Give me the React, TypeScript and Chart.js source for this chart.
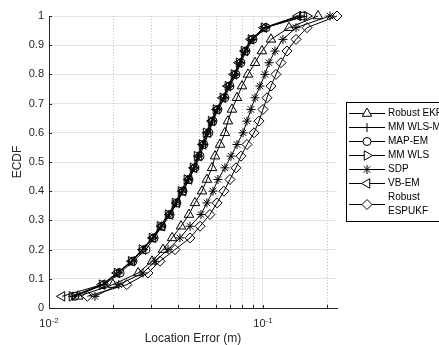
import React, { useEffect, useRef } from 'react';
import { Chart, registerables } from 'chart.js';
import { drawPoint } from 'chart.js/helpers';

Chart.register(...registerables);

// ---- data ----
const ecdfLevels = [0.04, 0.08, 0.12, 0.16, 0.2, 0.24, 0.28, 0.32, 0.36, 0.4, 0.44, 0.48, 0.52, 0.56, 0.6, 0.64, 0.68, 0.72, 0.76, 0.8, 0.84, 0.88, 0.92, 0.96, 1.0];

const robustEkfError = [0.0137, 0.0199, 0.0261, 0.0303, 0.0341, 0.0376, 0.0414, 0.0451, 0.0481, 0.0519, 0.0547, 0.0578, 0.0597, 0.063, 0.0664, 0.0686, 0.0716, 0.0756, 0.0798, 0.0851, 0.0918, 0.0989, 0.109, 0.1323, 0.1808];
const mmWlsMError = [0.0129, 0.0179, 0.021, 0.0244, 0.0275, 0.0306, 0.0334, 0.0364, 0.0392, 0.0418, 0.0446, 0.0476, 0.0497, 0.0524, 0.0547, 0.0578, 0.061, 0.0657, 0.0694, 0.074, 0.0781, 0.0824, 0.0888, 0.1022, 0.1489];
const mapEmError = [0.0132, 0.0181, 0.0215, 0.0247, 0.0284, 0.031, 0.0337, 0.0368, 0.0396, 0.0423, 0.0451, 0.0481, 0.0508, 0.053, 0.0559, 0.0584, 0.0616, 0.0664, 0.0701, 0.0748, 0.0789, 0.0833, 0.0898, 0.1033, 0.1538];
const mmWlsError = [0.0128, 0.0177, 0.0208, 0.0242, 0.0272, 0.0303, 0.033, 0.036, 0.0388, 0.0414, 0.0441, 0.0471, 0.0492, 0.0519, 0.0542, 0.0572, 0.0603, 0.065, 0.0686, 0.0732, 0.0773, 0.0815, 0.0879, 0.1011, 0.1606];
const sdpError = [0.0164, 0.0212, 0.0275, 0.0313, 0.036, 0.0409, 0.0456, 0.0513, 0.0547, 0.0584, 0.0616, 0.0664, 0.0709, 0.0756, 0.0807, 0.0842, 0.0879, 0.0918, 0.0968, 0.1022, 0.1067, 0.1138, 0.124, 0.1427, 0.2057];
const vbEmError = [0.0115, 0.0177, 0.0208, 0.0244, 0.0275, 0.0306, 0.0337, 0.0368, 0.0396, 0.0423, 0.0451, 0.0476, 0.0502, 0.0524, 0.0553, 0.0578, 0.061, 0.065, 0.0686, 0.0732, 0.0773, 0.0824, 0.0879, 0.1011, 0.1458];
const robustEspukfError = [0.0151, 0.0231, 0.029, 0.033, 0.0388, 0.0456, 0.0508, 0.0565, 0.061, 0.0657, 0.0701, 0.0748, 0.0789, 0.0842, 0.0908, 0.0958, 0.1, 0.1044, 0.109, 0.115, 0.1214, 0.1295, 0.1427, 0.1606, 0.2218];

const seriesNames = ['Robust EKF', 'MM WLS-M', 'MAP-EM', 'MM WLS', 'SDP', 'VB-EM', 'Robust\nESPUKF'];
const seriesErrors = [robustEkfError, mmWlsMError, mapEmError, mmWlsError, sdpError, vbEmError, robustEspukfError];

const yTickValues = [0, 0.1, 0.2, 0.3, 0.4, 0.5, 0.6, 0.7, 0.8, 0.9, 1];
const yTickLabels = ['0', '0.1', '0.2', '0.3', '0.4', '0.5', '0.6', '0.7', '0.8', '0.9', '1'];
const xGridValues = [0.01, 0.02, 0.03, 0.04, 0.05, 0.06, 0.07, 0.08, 0.09, 0.1, 0.2];
const xTickValues = [0.01, 0.1];
const xTickLabels = ['10^-2', '10^-1'];
const xTitle = 'Location Error (m)';
const yTitle = 'ECDF';

// ---- styles ----
const FONT = "'Liberation Sans', Arial, Helvetica, sans-serif";
const AXIS_COLOR = '#262626';
const seriesStyles = [
  { pointStyle: 'triangle', rotation: 0, radius: 5.5 },
  { pointStyle: 'cross', rotation: 0, radius: 4.5 },
  { pointStyle: 'circle', rotation: 0, radius: 4 },
  { pointStyle: 'triangle', rotation: 90, radius: 5.5 },
  { pointStyle: 'star', rotation: 0, radius: 4.5 },
  { pointStyle: 'triangle', rotation: -90, radius: 5.5 },
  { pointStyle: 'rectRot', rotation: 0, radius: 5 },
];

const isTickValue = (v: number) => xTickValues.some((t) => Math.abs(t - v) < 1e-9);

const overlayPlugin = {
  id: 'matlabOverlay',
  beforeDatasetsDraw(chart: any) {
    const { ctx, chartArea } = chart;
    const xs = chart.scales.x;
    ctx.save();
    ctx.strokeStyle = '#c4c4c4';
    ctx.lineWidth = 1;
    ctx.setLineDash([1, 2]);
    xGridValues.forEach((v) => {
      if (isTickValue(v)) return;
      const px = Math.round(xs.getPixelForValue(v)) + 0.5;
      ctx.beginPath();
      ctx.moveTo(px, chartArea.top);
      ctx.lineTo(px, chartArea.bottom);
      ctx.stroke();
    });
    ctx.restore();
  },
  afterDraw(chart: any) {
    const { ctx, chartArea } = chart;
    const xs = chart.scales.x;
    const ys = chart.scales.y;
    ctx.save();
    // inward tick marks
    ctx.strokeStyle = AXIS_COLOR;
    ctx.lineWidth = 1;
    ctx.setLineDash([]);
    xGridValues.forEach((v) => {
      const px = Math.round(xs.getPixelForValue(v)) + 0.5;
      ctx.beginPath();
      ctx.moveTo(px, chartArea.bottom);
      ctx.lineTo(px, chartArea.bottom - 3);
      ctx.stroke();
    });
    yTickValues.forEach((v) => {
      const py = Math.round(ys.getPixelForValue(v)) + 0.5;
      ctx.beginPath();
      ctx.moveTo(chartArea.left, py);
      ctx.lineTo(chartArea.left + 3, py);
      ctx.stroke();
    });
    // x tick labels with superscript exponent
    ctx.fillStyle = AXIS_COLOR;
    ctx.textBaseline = 'alphabetic';
    ctx.textAlign = 'left';
    xTickValues.forEach((v, i) => {
      const [base, exp] = xTickLabels[i].split('^');
      ctx.font = `11px ${FONT}`;
      const wb = ctx.measureText(base).width;
      ctx.font = `8px ${FONT}`;
      const we = ctx.measureText(exp).width;
      const cx = xs.getPixelForValue(v);
      const x0 = cx - (wb + we) / 2;
      const baseY = chartArea.bottom + 19;
      ctx.font = `11px ${FONT}`;
      ctx.fillText(base, x0, baseY);
      ctx.font = `8px ${FONT}`;
      ctx.fillText(exp, x0 + wb, baseY - 4);
    });
    // legend
    const boxLeft = 346.5;
    const boxTop = 102.5;
    const boxBottom = 221.5;
    ctx.fillStyle = '#ffffff';
    ctx.fillRect(boxLeft, boxTop, 140, boxBottom - boxTop);
    ctx.strokeStyle = '#000000';
    ctx.lineWidth = 1;
    ctx.strokeRect(boxLeft, boxTop, 140, boxBottom - boxTop);
    let rowY = 113;
    chart.data.datasets.forEach((ds: any, i: number) => {
      const lines = String(ds.label).split('\n');
      const rowCenter = rowY + ((lines.length - 1) * 14) / 2;
      ctx.strokeStyle = '#000000';
      ctx.lineWidth = 1;
      ctx.beginPath();
      ctx.moveTo(349, Math.round(rowCenter) + 0.5);
      ctx.lineTo(385, Math.round(rowCenter) + 0.5);
      ctx.stroke();
      const st = seriesStyles[i];
      ctx.fillStyle = '#ffffff';
      drawPoint(ctx, { pointStyle: st.pointStyle as any, rotation: st.rotation, radius: st.radius, borderWidth: 1 }, 367, Math.round(rowCenter) + 0.5);
      ctx.fillStyle = '#000000';
      ctx.font = `10px ${FONT}`;
      ctx.textBaseline = 'middle';
      ctx.textAlign = 'left';
      lines.forEach((ln, j) => ctx.fillText(ln, 388, rowY + j * 14));
      rowY += lines.length * 14;
    });
    ctx.restore();
  },
};

export default function App() {
  const ref = useRef<HTMLCanvasElement>(null);
  useEffect(() => {
    document.body.style.margin = '0';
    const datasets = seriesErrors.map((errs, i) => ({
      label: seriesNames[i],
      data: errs.map((x, k) => ({ x, y: ecdfLevels[k] })),
      borderColor: '#000000',
      borderWidth: 1,
      pointStyle: seriesStyles[i].pointStyle as any,
      pointRotation: seriesStyles[i].rotation,
      pointRadius: seriesStyles[i].radius,
      pointBorderColor: '#000000',
      pointBackgroundColor: 'rgba(0,0,0,0)',
      pointBorderWidth: 1,
      tension: 0,
      fill: false,
      clip: false as any,
    }));
    const chart = new Chart(ref.current as HTMLCanvasElement, {
      type: 'line',
      data: { datasets },
      options: {
        animation: false,
        responsive: false,
        maintainAspectRatio: false,
        events: [],
        layout: { padding: { top: 16, right: 102, bottom: 0, left: 0 } },
        plugins: { legend: { display: false }, tooltip: { enabled: false } },
        scales: {
          x: {
            type: 'logarithmic',
            min: 0.01,
            max: 0.2218,
            afterBuildTicks: (s: any) => {
              s.ticks = xGridValues.map((v) => ({ value: v, major: isTickValue(v) }));
            },
            afterFit: (s: any) => {
              s.height = 37;
            },
            ticks: { display: false },
            grid: {
              drawTicks: false,
              lineWidth: 1,
              color: (c: any) => (c.tick && isTickValue(c.tick.value) && c.tick.value > 0.011 ? '#e3e3e3' : 'rgba(0,0,0,0)'),
            },
            border: { display: true, color: AXIS_COLOR, width: 1 },
            title: {
              display: true,
              text: xTitle,
              color: AXIS_COLOR,
              font: { family: FONT, size: 12, lineHeight: 1 },
              padding: { top: 0, bottom: 0 },
            },
          },
          y: {
            type: 'linear',
            min: 0,
            max: 1,
            afterBuildTicks: (s: any) => {
              s.ticks = yTickValues.map((v) => ({ value: v }));
            },
            afterFit: (s: any) => {
              s.width = 49;
            },
            ticks: {
              callback: (_v: any, idx: number) => yTickLabels[idx],
              color: AXIS_COLOR,
              font: { family: FONT, size: 11 },
              padding: 5,
            },
            grid: {
              drawTicks: false,
              lineWidth: 1,
              color: (c: any) => (c.tick && c.tick.value > 0.001 ? '#e3e3e3' : 'rgba(0,0,0,0)'),
            },
            border: { display: true, color: AXIS_COLOR, width: 1 },
            title: {
              display: true,
              text: yTitle,
              color: AXIS_COLOR,
              font: { family: FONT, size: 12, lineHeight: 1 },
              padding: { top: 12, bottom: 0 },
            },
          },
        },
      } as any,
      plugins: [overlayPlugin],
    });
    return () => chart.destroy();
  }, []);
  return (
    <div style={{ position: 'absolute', left: 0, top: 0, width: 439, height: 345 }}>
      <canvas ref={ref} width={439} height={345} style={{ display: 'block', width: 439, height: 345 }} />
    </div>
  );
}
